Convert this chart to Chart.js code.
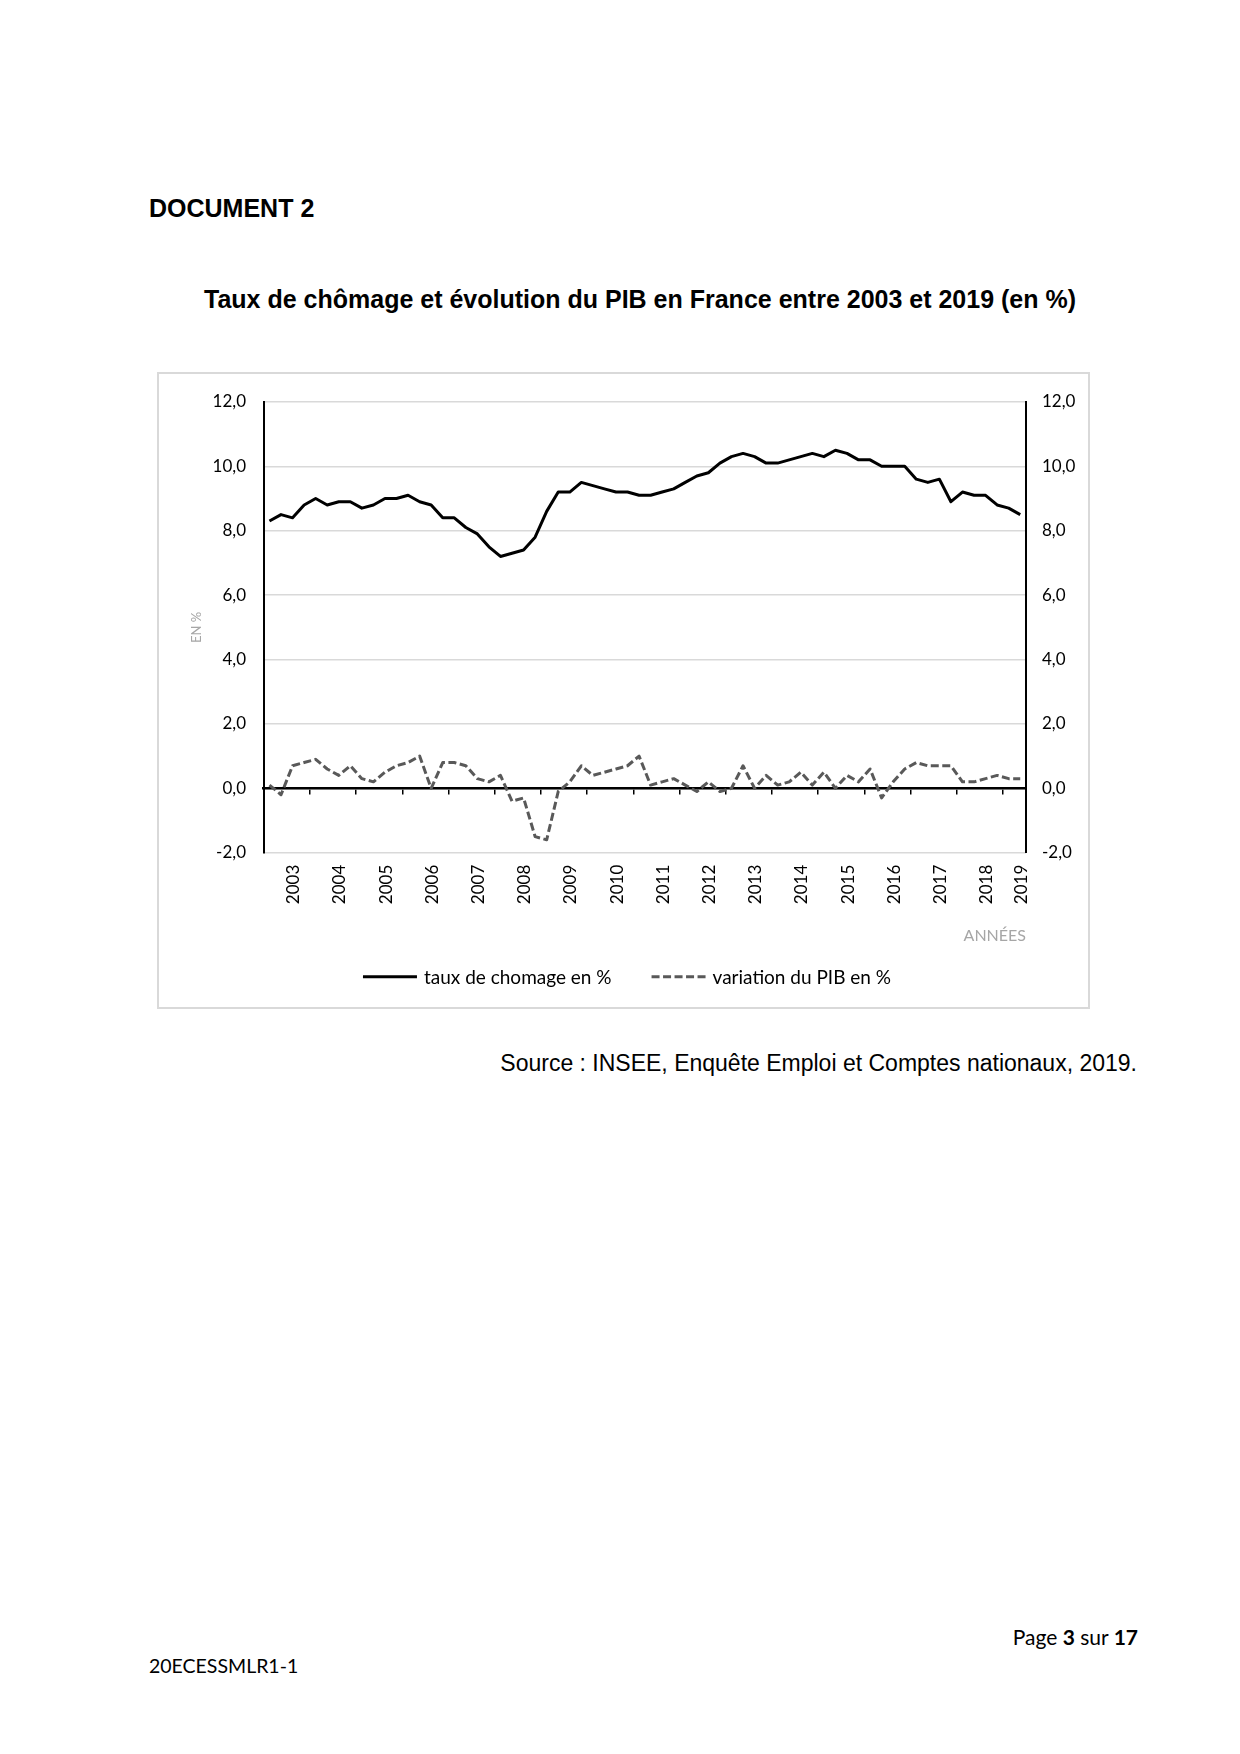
<!DOCTYPE html>
<html lang="fr">
<head>
<meta charset="utf-8">
<title>Document 2</title>
<script src="https://cdn.jsdelivr.net/npm/chart.js@4.4.1/dist/chart.umd.min.js"></script>
<style>
  html, body { margin: 0; padding: 0; background: #fff; }
  body { width: 1240px; height: 1754px; position: relative; font-family: "Liberation Sans", Arial, sans-serif; color: #000; }
  .abs { position: absolute; white-space: nowrap; line-height: 1; }
  #doc { left: 149px; top: 196px; font-size: 25px; font-weight: bold; }
  #title { left: 204px; top: 287px; font-size: 25px; font-weight: bold; }
  #frame { left: 157px; top: 372px; width: 933px; height: 637px; box-sizing: border-box; border: 2px solid #d9d9d9; }
  #wrap { left: 159px; top: 374px; width: 929px; height: 633px; }
  #source { right: 103px; top: 1052px; font-size: 23px; }
  #page { right: 102px; top: 1626px; font-family: Lato, sans-serif; font-size: 21px; }
  #code { left: 149px; top: 1656px; font-family: Lato, sans-serif; font-size: 19.5px; }
</style>
</head>
<body>
<div class="abs" id="doc">DOCUMENT 2</div>
<div class="abs" id="title">Taux de chômage et évolution du PIB en France entre 2003 et 2019 (en %)</div>
<div class="abs" id="frame"></div>
<div class="abs" id="wrap"><canvas id="chart" width="929" height="633"></canvas></div>
<div class="abs" id="source">Source : INSEE, Enquête Emploi et Comptes nationaux, 2019.</div>
<div class="abs" id="page">Page <b>3</b> sur <b>17</b></div>
<div class="abs" id="code">20ECESSMLR1-1</div>
<script>
// quarterly series, 2003 T1 -> 2019 T2
const years = [2003, 2004, 2005, 2006, 2007, 2008, 2009, 2010, 2011, 2012, 2013, 2014, 2015, 2016, 2017, 2018, 2019];
const lastYearQuarters = 2;

const chomage = [
    8.3, 8.5, 8.4, 8.8, 9.0, 8.8, 8.9, 8.9, 8.7, 8.8, 9.0, 9.0, 9.1, 8.9, 8.8, 8.4,
    8.4, 8.1, 7.9, 7.5, 7.2, 7.3, 7.4, 7.8, 8.6, 9.2, 9.2, 9.5, 9.4, 9.3, 9.2, 9.2,
    9.1, 9.1, 9.2, 9.3, 9.5, 9.7, 9.8, 10.1, 10.3, 10.4, 10.3, 10.1, 10.1, 10.2, 10.3, 10.4,
    10.3, 10.5, 10.4, 10.2, 10.2, 10.0, 10.0, 10.0, 9.6, 9.5, 9.6, 8.9, 9.2, 9.1, 9.1, 8.8,
    8.7, 8.5
];
const pib = [
    0.1, -0.2, 0.7, 0.8, 0.9, 0.6, 0.4, 0.7, 0.3, 0.2, 0.5, 0.7, 0.8, 1.0, 0.0, 0.8,
    0.8, 0.7, 0.3, 0.2, 0.4, -0.4, -0.3, -1.5, -1.6, -0.1, 0.2, 0.7, 0.4, 0.5, 0.6, 0.7,
    1.0, 0.1, 0.2, 0.3, 0.1, -0.1, 0.2, -0.1, 0.0, 0.7, 0.0, 0.4, 0.1, 0.2, 0.5, 0.1,
    0.5, 0.0, 0.4, 0.2, 0.6, -0.3, 0.2, 0.6, 0.8, 0.7, 0.7, 0.7, 0.2, 0.2, 0.3, 0.4,
    0.3, 0.3
];

// category labels + where the year labels and the tick marks go
const quarterLabels = [];
const yearCenters = [];
const groupEdges = [];
years.forEach((y, k) => {
    const n = k === years.length - 1 ? lastYearQuarters : 4;
    const start = quarterLabels.length;
    groupEdges.push(start - 0.5);
    yearCenters.push(start + (n - 1) / 2 + 0.6);
    for (let q = 1; q <= n; q++) quarterLabels.push(y + " T" + q);
});
const xMax = quarterLabels.length - 0.5;

const fmt = (v) => Number(v).toFixed(1).replace(".", ",");

Chart.defaults.font.family = "Lato, 'Open Sans', sans-serif";
Chart.defaults.color = "#000";

// Excel-like legend: long line sample (dashed for PIB), wide gap between items
const lineLegend = {
    id: "lineLegend",
    afterDraw(chart, args, opts) {
        const c = chart.ctx;
        c.save();
        c.font = opts.fontSize + "px " + Chart.defaults.font.family;
        c.textBaseline = "middle";
        const items = chart.data.datasets.map((ds) => ({
            ds,
            w: opts.sampleWidth + opts.textGap + c.measureText(ds.label).width,
        }));
        const total = items.reduce((a, it) => a + it.w, 0) + opts.itemGap * (items.length - 1);
        let x = (chart.width - total) / 2 + opts.shiftX;
        const y = chart.scales.xl.bottom + opts.offsetY;
        items.forEach(({ ds, w }) => {
            c.beginPath();
            c.setLineDash(ds.borderDash || []);
            c.strokeStyle = ds.borderColor;
            c.lineWidth = ds.borderWidth;
            c.moveTo(x, y);
            c.lineTo(x + opts.sampleWidth, y);
            c.stroke();
            c.setLineDash([]);
            c.fillStyle = opts.color;
            c.fillText(ds.label, x + opts.sampleWidth + opts.textGap, y + 1);
            x += w + opts.itemGap;
        });
        c.restore();
    },
};

const ctx = document.getElementById("chart").getContext("2d");

new Chart(ctx, {
    type: "line",
    data: {
        labels: quarterLabels,
        datasets: [
            {
                label: "taux de chomage en %",
                data: chomage,
                borderColor: "#000",
                backgroundColor: "#000",
                borderWidth: 3,
                borderJoinStyle: "round",
                pointRadius: 0,
                tension: 0,
            },
            {
                label: "variation du PIB en %",
                data: pib,
                borderColor: "#595959",
                backgroundColor: "#595959",
                borderWidth: 3,
                borderDash: [8, 3.5],
                borderJoinStyle: "round",
                pointRadius: 0,
                tension: 0,
            },
        ],
    },
    options: {
        responsive: false,
        animation: false,
        layout: { padding: { top: 22.7, bottom: 78.8, left: 0, right: 0 } },
        scales: {
            x: { type: "category", display: false, offset: true },
            xt: {
                type: "linear",
                position: { y: 0 },
                min: -0.5,
                max: xMax,
                afterBuildTicks: (s) => { s.ticks = groupEdges.map((v) => ({ value: v })); },
                ticks: { display: false },
                grid: { drawOnChartArea: false, drawTicks: true, tickLength: 5, color: "#000", lineWidth: 1.5 },
                border: { color: "#000", width: 2.5 },
            },
            xl: {
                type: "linear",
                position: "bottom",
                min: -0.5,
                max: xMax,
                afterBuildTicks: (s) => { s.ticks = yearCenters.map((v) => ({ value: v })); },
                afterFit: (s) => { s.height = 75.5; },
                grid: { display: false, drawTicks: false },
                border: { display: false },
                ticks: {
                    autoSkip: false,
                    minRotation: 90,
                    maxRotation: 90,
                    padding: 12,
                    font: { size: 17 },
                    callback: (v, i) => String(years[i]),
                },
                title: {
                    display: true,
                    text: "ANNÉES",
                    align: "end",
                    color: "#a6a6a6",
                    font: { size: 16 },
                    padding: { top: 0, bottom: -17.4 },
                },
            },
            y: {
                position: "left",
                min: -2,
                max: 12,
                afterFit: (s) => { s.width = 104.7; },
                ticks: { stepSize: 2, padding: 17.7, font: { size: 17 }, callback: fmt },
                grid: { color: "#d9d9d9", lineWidth: 1.5, drawTicks: false },
                border: { color: "#000", width: 2 },
                title: {
                    display: true,
                    text: "EN %",
                    color: "#a6a6a6",
                    font: { size: 13 },
                    padding: { top: 29.8, bottom: 0 },
                },
            },
            y2: {
                position: "right",
                min: -2,
                max: 12,
                afterFit: (s) => { s.width = 62; },
                ticks: { stepSize: 2, padding: 16, font: { size: 17 }, callback: fmt },
                grid: { drawOnChartArea: false, drawTicks: false },
                border: { color: "#000", width: 2 },
            },
        },
        plugins: {
            legend: { display: false },
            tooltip: { enabled: false },
            lineLegend: {
                fontSize: 19,
                color: "#000",
                sampleWidth: 54,
                textGap: 7,
                itemGap: 40,
                offsetY: 48.5,
                shiftX: 3.5,
            },
        },
    },
    plugins: [lineLegend],
});
</script>
</body>
</html>
